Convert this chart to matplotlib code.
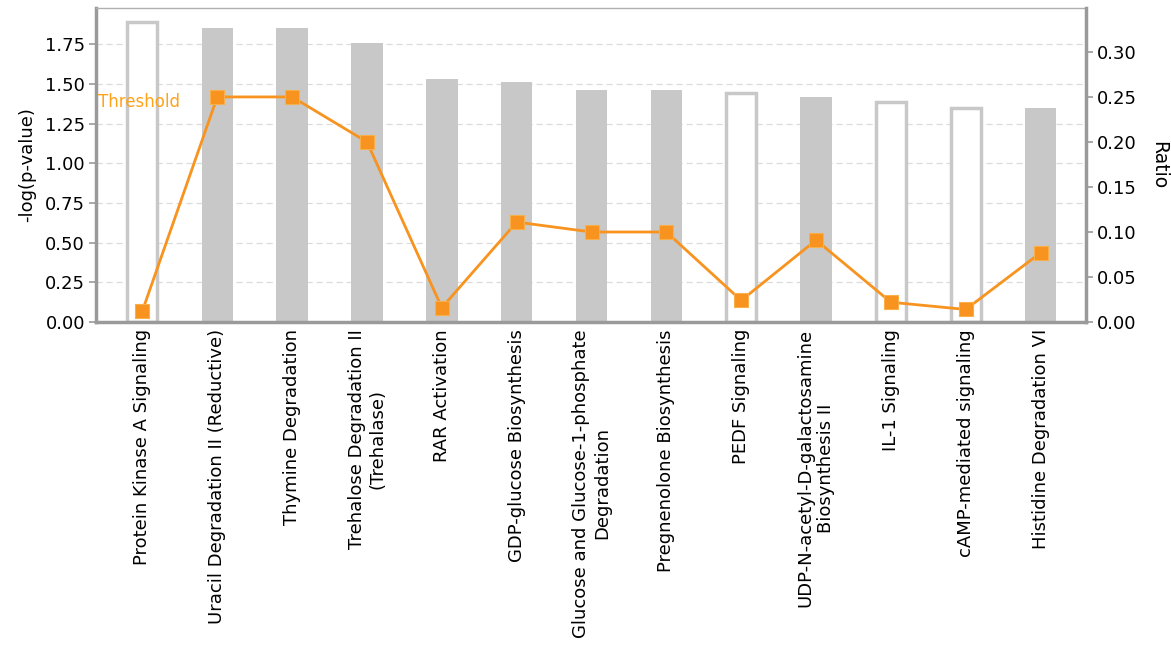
import numpy as np
import matplotlib
matplotlib.use('Agg')
from matplotlib import pyplot as plt

# pathways, -log(p-value) bars, ratio line
pathways = ['Protein Kinase A Signaling',
            'Uracil Degradation II (Reductive)',
            'Thymine Degradation',
            'Trehalose Degradation II\n(Trehalase)',
            'RAR Activation',
            'GDP-glucose Biosynthesis',
            'Glucose and Glucose-1-phosphate\nDegradation',
            'Pregnenolone Biosynthesis',
            'PEDF Signaling',
            'UDP-N-acetyl-D-galactosamine\nBiosynthesis II',
            'IL-1 Signaling',
            'cAMP-mediated signaling',
            'Histidine Degradation VI']
logp = [1.89, 1.855, 1.855, 1.76, 1.53, 1.51, 1.46, 1.46, 1.445, 1.42, 1.385, 1.35, 1.35]
ratio = [0.0125, 0.25, 0.25, 0.2, 0.016, 0.111, 0.1, 0.1, 0.024, 0.091, 0.022, 0.014, 0.077]
# True -> grey filled bar, False -> open bar
filled = [False, True, True, True, True, True, True, True, False, True, False, False, True]

bar_grey = '#c8c8c8'
orange = '#f7931e'
spine_grey = '#9a9a9a'
fnt = 'DejaVu Sans'

fig = plt.figure(figsize=(11.71, 6.48), dpi=100)
ax = fig.add_axes([0.082, 0.503, 0.845, 0.485])
ax.set_axisbelow(True)

x = np.arange(len(pathways))
for i in range(len(pathways)):
    if filled[i]:
        ax.bar(x[i], logp[i], width=0.42, color=bar_grey, edgecolor=bar_grey, linewidth=0)
    else:
        ax.bar(x[i], logp[i], width=0.40, color='white', edgecolor=bar_grey, linewidth=2.5)

ax.set_xlim(-0.62, 12.6)
ax.set_ylim(0, 1.98)
ax.set_yticks([0, 0.25, 0.5, 0.75, 1.0, 1.25, 1.5, 1.75])
ax.set_yticklabels(['%.2f' % v for v in ax.get_yticks()], family=fnt, fontsize=13)
ax.yaxis.grid(True, linestyle=(0, (5, 3)), color='#dcdcdc', linewidth=0.9)
ax.set_xticks(x)
ax.set_xticklabels(pathways, rotation=90, fontsize=13, family=fnt,
                   ha='center', va='top', multialignment='center')
ax.tick_params(axis='x', length=0, pad=5)
ax.tick_params(axis='y', length=5, color=spine_grey, width=1.2, pad=3)
ax.set_ylabel('-log(p-value)', family=fnt, fontsize=13, labelpad=6)

for s in ['left', 'bottom']:
    ax.spines[s].set_color(spine_grey)
    ax.spines[s].set_linewidth(2.5)
ax.spines['top'].set_color('#b0b0b0')
ax.spines['top'].set_linewidth(1)
ax.spines['right'].set_visible(False)

ax.text(0.002, 1.33, 'Threshold', transform=ax.get_yaxis_transform(), color='#ffa31a',
        fontsize=12, family=fnt, ha='left', va='bottom')

ax2 = ax.twinx()
ax2.plot(x, ratio, color=orange, linewidth=2, marker='s', markersize=10,
         markerfacecolor=orange, markeredgecolor='#f9b04a', markeredgewidth=0.8, zorder=5)
ax2.set_ylim(0, 0.349)
ax2.set_yticks([0, 0.05, 0.1, 0.15, 0.2, 0.25, 0.3])
ax2.set_yticklabels(['%.2f' % v for v in ax2.get_yticks()], family=fnt, fontsize=13)
ax2.tick_params(axis='y', length=5, color=spine_grey, width=1.2, pad=3)
ax2.set_ylabel('Ratio', family=fnt, fontsize=13.5, rotation=270, labelpad=23)
for s in ['left', 'bottom', 'top']:
    ax2.spines[s].set_visible(False)
ax2.spines['right'].set_color(spine_grey)
ax2.spines['right'].set_linewidth(2.5)

plt.savefig('out.png', dpi=100)
